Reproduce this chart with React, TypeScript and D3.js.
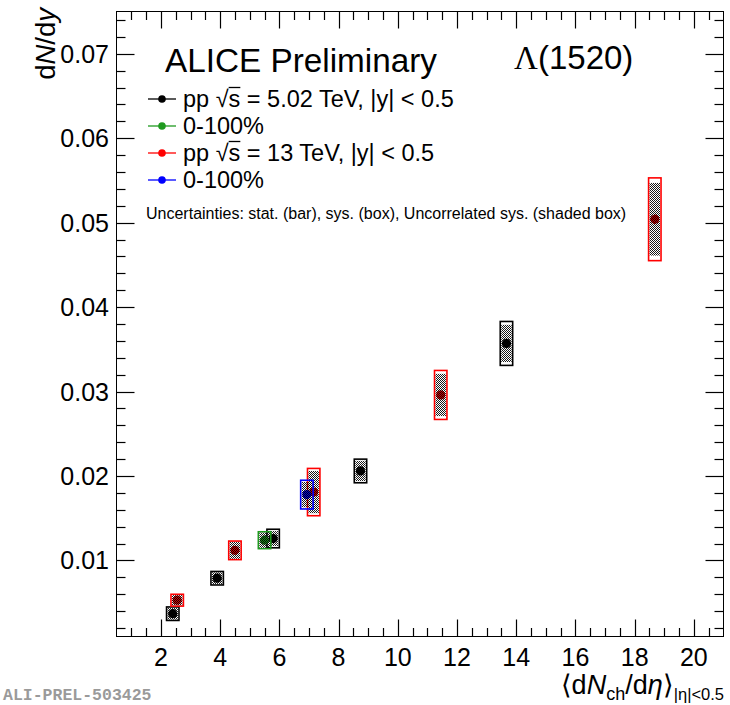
import React, { useEffect, useRef } from "react";
import * as d3 from "d3";

// pp 5.02 TeV, multiplicity classes
const pp502X = [2.4, 3.9, 5.79, 8.74, 13.67];
const pp502Y = [0.0037, 0.0079, 0.0126, 0.0206, 0.0357];
const pp502Stat = [0.0002, 0.0002, 0.0002, 0.0003, 0.0004];
const pp502Sys = [0.0008, 0.0008, 0.0011, 0.0014, 0.0026];
const pp502Unc = [0.0007, 0.0007, 0.0009, 0.0012, 0.0022];
// pp 5.02 TeV, 0-100%
const pp502MbX = [5.5];
const pp502MbY = [0.0124];
const pp502MbStat = [0.0002];
const pp502MbSys = [0.001];
const pp502MbUnc = [0.0009];
// pp 13 TeV, multiplicity classes
const pp13X = [2.55, 4.5, 7.16, 11.45, 18.68];
const pp13Y = [0.0053, 0.0112, 0.0181, 0.0296, 0.0504];
const pp13Stat = [0.0002, 0.0002, 0.0003, 0.0004, 0.0006];
const pp13Sys = [0.0007, 0.0011, 0.0028, 0.0029, 0.0049];
const pp13Unc = [0.0006, 0.001, 0.0025, 0.0025, 0.0043];
// pp 13 TeV, 0-100%
const pp13MbX = [6.93];
const pp13MbY = [0.0178];
const pp13MbStat = [0.0002];
const pp13MbSys = [0.0017];
const pp13MbUnc = [0.0015];

const xTicks = [2, 4, 6, 8, 10, 12, 14, 16, 18, 20];
const yTicks = [0.01, 0.02, 0.03, 0.04, 0.05, 0.06, 0.07];
const yTickLabels = ["0.01", "0.02", "0.03", "0.04", "0.05", "0.06", "0.07"];

const legendLabels = ["pp ", "0-100%", "pp ", "0-100%"];
const legendEnergies = ["5.02", "", "13", ""];

const W = 730;
const H = 705;
const FONT = "'Liberation Sans', Arial, Helvetica, sans-serif";

const App = () => {
  const ref = useRef<SVGSVGElement>(null);

  useEffect(() => {
    const svg = d3.select(ref.current);
    svg.selectAll("*").remove();

    const left = 116.5, top = 11.5, right = 723.5, bottom = 636.5;

    const x = d3.scaleLinear().domain([0.5, 21]).range([left, right]);
    const y = d3.scaleLinear().domain([0.001, 0.075]).range([bottom, top]);

    // checkered pattern for uncorrelated sys boxes
    const defs = svg.append("defs");
    const pat = defs
      .append("pattern")
      .attr("id", "shade")
      .attr("patternUnits", "userSpaceOnUse")
      .attr("width", 2)
      .attr("height", 2);
    pat.append("rect").attr("x", 0).attr("y", 0).attr("width", 1).attr("height", 1).attr("fill", "#000");
    pat.append("rect").attr("x", 1).attr("y", 1).attr("width", 1).attr("height", 1).attr("fill", "#000");

    // frame
    svg
      .append("rect")
      .attr("x", left)
      .attr("y", top)
      .attr("width", right - left)
      .attr("height", bottom - top)
      .attr("fill", "none")
      .attr("stroke", "#000")
      .attr("stroke-width", 1);

    // ticks on all four sides
    const ticks = svg.append("g").attr("stroke", "#000").attr("stroke-width", 1.2);
    d3.range(1, 21, 0.5).forEach((v) => {
      const major = xTicks.includes(v);
      const len = major ? 17 : 8.5;
      const px = Math.round(x(v)) + 0.5;
      ticks.append("line").attr("x1", px).attr("x2", px).attr("y1", bottom).attr("y2", bottom - len);
      ticks.append("line").attr("x1", px).attr("x2", px).attr("y1", top).attr("y2", top + len);
    });
    d3.range(1, 38).forEach((i) => {
      const v = i * 0.002;
      const major = i % 5 === 0;
      const len = major ? 18 : 9;
      const py = Math.round(y(v)) + 0.5;
      ticks.append("line").attr("x1", left).attr("x2", left + len).attr("y1", py).attr("y2", py);
      ticks.append("line").attr("x1", right).attr("x2", right - len).attr("y1", py).attr("y2", py);
    });

    // tick labels
    svg
      .append("g")
      .selectAll("text")
      .data(xTicks)
      .enter()
      .append("text")
      .attr("x", (d) => x(d))
      .attr("y", 666)
      .attr("text-anchor", "middle")
      .attr("font-family", FONT)
      .attr("font-size", 25)
      .text((d) => d);

    svg
      .append("g")
      .selectAll("text")
      .data(yTicks)
      .enter()
      .append("text")
      .attr("x", 109)
      .attr("y", (d) => y(d) + 9)
      .attr("text-anchor", "end")
      .attr("font-family", FONT)
      .attr("font-size", 25)
      .text((d, i) => yTickLabels[i]);

    // axis titles
    const yt = svg
      .append("text")
      .attr("transform", "translate(55,8) rotate(-90)")
      .attr("text-anchor", "end")
      .attr("font-family", FONT)
      .attr("font-size", 27.5);
    yt.append("tspan").text("d");
    yt.append("tspan").attr("font-style", "italic").text("N");
    yt.append("tspan").text("/d");
    yt.append("tspan").attr("font-style", "italic").text("y");

    const xt = svg
      .append("text")
      .attr("x", 724)
      .attr("y", 694)
      .attr("text-anchor", "end")
      .attr("font-family", FONT)
      .attr("font-size", 27);
    xt.append("tspan").text("\u27e8d");
    xt.append("tspan").attr("font-style", "italic").text("N");
    xt.append("tspan").attr("font-size", 18).attr("dy", 6).text("ch");
    xt.append("tspan").attr("dy", -6).text("/d");
    xt.append("tspan").attr("font-style", "italic").text("\u03b7");
    xt.append("tspan").text("\u27e9");
    xt.append("tspan").attr("font-size", 16.5).attr("dy", 6).text("|\u03b7|<0.5");

    // headers
    svg
      .append("text")
      .attr("x", 165)
      .attr("y", 72)
      .attr("font-family", FONT)
      .attr("font-size", 33.3)
      .text("ALICE Preliminary");
    const lam = svg
      .append("text")
      .attr("x", 514)
      .attr("y", 69)
      .attr("font-family", FONT)
      .attr("font-size", 33);
    lam.append("tspan").attr("font-family", "'Liberation Serif', serif").text("\u039b");
    lam.append("tspan").text("(1520)");

    svg
      .append("text")
      .attr("x", 146)
      .attr("y", 219)
      .attr("font-family", FONT)
      .attr("font-size", 16)
      .text("Uncertainties: stat. (bar), sys. (box), Uncorrelated sys. (shaded box)");

    // series
    const series = [
      { xs: pp502X, ys: pp502Y, stat: pp502Stat, sys: pp502Sys, unc: pp502Unc, color: "#000000" },
      { xs: pp502MbX, ys: pp502MbY, stat: pp502MbStat, sys: pp502MbSys, unc: pp502MbUnc, color: "#1f9a1f" },
      { xs: pp13X, ys: pp13Y, stat: pp13Stat, sys: pp13Sys, unc: pp13Unc, color: "#ff0000" },
      { xs: pp13MbX, ys: pp13MbY, stat: pp13MbStat, sys: pp13MbSys, unc: pp13MbUnc, color: "#0000ff" },
    ];
    const halfW = 0.21;
    const markerFill = ["#000000", "#1a8a1a", "#d00000", "#0000dd"];

    series.forEach((s, si) => {
      const g = svg.append("g");
      s.xs.forEach((xv, i) => {
        const yv = s.ys[i];
        g.append("rect")
          .attr("x", x(xv - halfW))
          .attr("y", y(yv + s.sys[i]))
          .attr("width", x(xv + halfW) - x(xv - halfW))
          .attr("height", y(yv - s.sys[i]) - y(yv + s.sys[i]))
          .attr("fill", "none")
          .attr("stroke", s.color)
          .attr("stroke-width", 1.6);
        g.append("line")
          .attr("x1", x(xv))
          .attr("x2", x(xv))
          .attr("y1", y(yv + s.stat[i]))
          .attr("y2", y(yv - s.stat[i]))
          .attr("stroke", s.color)
          .attr("stroke-width", 1.5);
        g.append("circle")
          .attr("cx", x(xv))
          .attr("cy", y(yv))
          .attr("r", 4.6)
          .attr("fill", markerFill[si]);
        g.append("rect")
          .attr("x", x(xv - halfW) + 1)
          .attr("y", y(yv + s.unc[i]))
          .attr("width", x(xv + halfW) - x(xv - halfW) - 2)
          .attr("height", y(yv - s.unc[i]) - y(yv + s.unc[i]))
          .attr("fill", "url(#shade)")
          .attr("opacity", 0.9);
      });
    });

    // legend
    const legY = [99, 126, 153, 180];
    series.forEach((s, i) => {
      const g = svg.append("g");
      g.append("line")
        .attr("x1", 148)
        .attr("x2", 176)
        .attr("y1", legY[i])
        .attr("y2", legY[i])
        .attr("stroke", s.color)
        .attr("stroke-width", 1.3);
      g.append("circle").attr("cx", 162).attr("cy", legY[i]).attr("r", 3.8).attr("fill", s.color);
      const t = g
        .append("text")
        .attr("x", 183)
        .attr("y", legY[i] + 8)
        .attr("font-family", FONT)
        .attr("font-size", 23.5)
        .text(legendLabels[i]);
      if (legendEnergies[i]) {
        t.append("tspan").text("\u221a");
        t.append("tspan").text("s");
        t.append("tspan").text(` = ${legendEnergies[i]} TeV, |y| < 0.5`);
        const node = t.node() as SVGTextElement;
        const sIdx = legendLabels[i].length + 1;
        const x0 = node.getStartPositionOfChar(sIdx - 1).x + 13;
        const x1 = node.getEndPositionOfChar(sIdx).x;
        g.append("line")
          .attr("x1", x0)
          .attr("x2", x1)
          .attr("y1", legY[i] - 11.5)
          .attr("y2", legY[i] - 11.5)
          .attr("stroke", "#000")
          .attr("stroke-width", 1.3);
      }
    });

    // watermark
    svg
      .append("text")
      .attr("x", 3)
      .attr("y", 700)
      .attr("font-family", "'Liberation Mono', 'DejaVu Sans Mono', monospace")
      .attr("font-weight", "bold")
      .attr("font-size", 16.5)
      .attr("fill", "#9a9a9a")
      .text("ALI-PREL-503425");
  }, []);

  return (
    <svg
      ref={ref}
      width={W}
      height={H}
      style={{ position: "absolute", left: 0, top: 0, background: "#fff" }}
    />
  );
};

export default App;
